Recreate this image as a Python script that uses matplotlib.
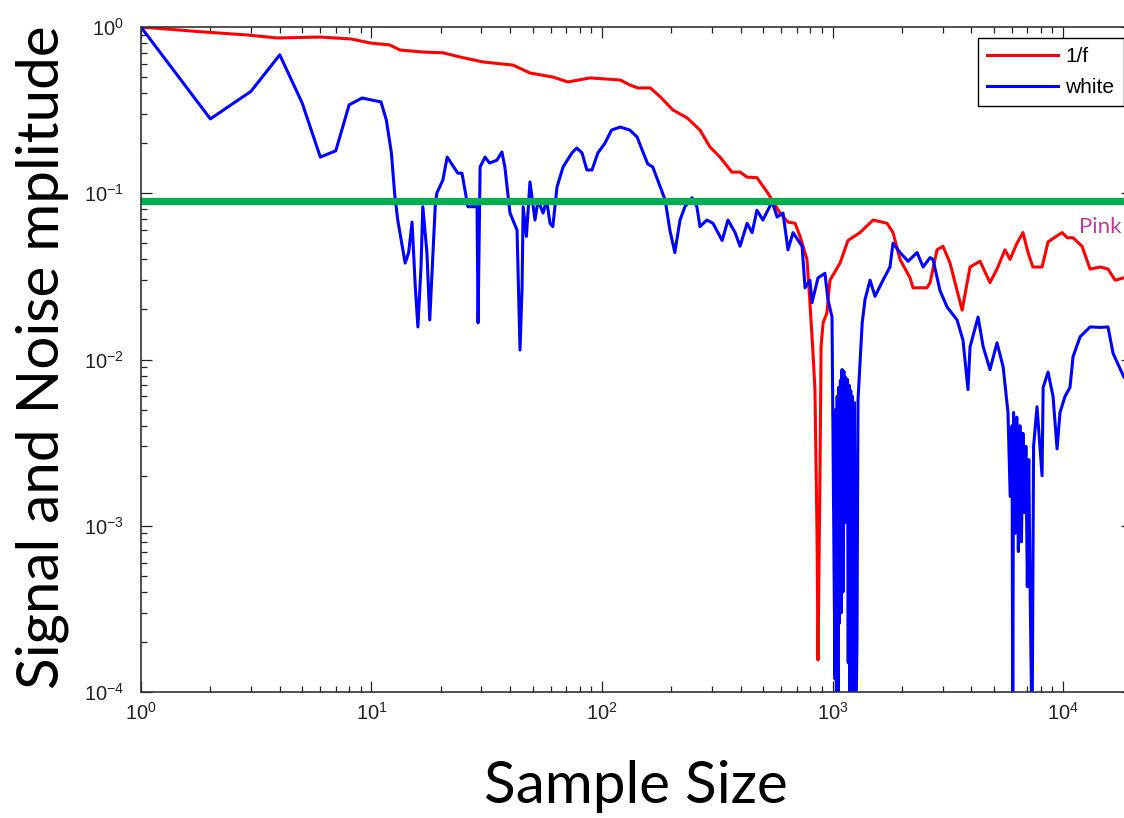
import matplotlib
matplotlib.use('Agg')
import matplotlib.pyplot as plt

plt.rcParams['font.family'] = ['Liberation Sans', 'DejaVu Sans']
plt.rcParams['mathtext.default'] = 'regular'

# ==================== data ====================
# white noise
white_x = [1, 2, 3, 4, 5, 6, 7, 8, 9.1, 11, 11.6, 12.2, 12.6, 13.0, 14.0, 14.5,
           15.0, 15.5, 15.9, 16.4, 16.7, 17.4, 17.9, 18.5, 18.9, 19.2, 20.4, 21.3,
           23.7, 24.7, 26.2, 28.7, 29.0, 29.6, 31.1, 32.5, 35.0, 36.8, 37.9, 39.9,
           42.8, 44.1, 45.0, 45.5, 47.0, 48.7, 51.2, 52.8, 55.5, 57.5, 59.5, 61.2,
           63.8, 67.8, 74.1, 77.7, 81.9, 86, 90.5, 96, 103, 110, 120, 132, 142,
           151, 158, 166, 179, 188, 197, 207, 218, 229, 246, 258, 266, 285, 303,
           332, 352, 378, 397, 426, 448, 470, 499, 547, 575, 610, 641, 674, 738,
           760, 798, 815, 865, 927, 955, 995,
           1025, 1032, 1040, 1048, 1056, 1064, 1072, 1082, 1092, 1100, 1110, 1120,
           1130, 1140, 1150, 1160, 1170, 1180, 1190, 1200, 1210, 1220, 1230, 1245,
           1260, 1277, 1290, 1316, 1345, 1384, 1455, 1529, 1656, 1775,
           1830, 1963, 2127, 2327, 2472, 2650, 2729, 2925, 3140, 3470, 3680, 3870,
           3950, 4280, 4500, 4820, 5170, 5500, 5770, 5900, 6010, 6050, 6100, 6200,
           6300, 6400, 6500, 6600, 6700, 6800, 6900, 7000, 7100, 7200, 7340, 7450,
           7710, 8110, 8200, 8610, 9050, 9420, 9700, 10200,
           10720, 11050, 11860, 13100, 14490, 15670, 16480, 18400, 20000]
white_y = [1.0, 0.28, 0.41, 0.68, 0.35, 0.165, 0.18, 0.34, 0.374, 0.354, 0.276,
           0.175, 0.1, 0.069, 0.038, 0.044, 0.067, 0.027, 0.0157, 0.036, 0.083,
           0.044, 0.0173, 0.044, 0.083, 0.1, 0.12, 0.165, 0.132, 0.132, 0.083,
           0.083, 0.0166, 0.144, 0.165, 0.152, 0.158, 0.177, 0.144, 0.076, 0.060,
           0.0114, 0.027, 0.083, 0.055, 0.117, 0.069, 0.091, 0.076, 0.091, 0.066,
           0.063, 0.109, 0.144, 0.175, 0.187, 0.175, 0.138, 0.138, 0.175, 0.2,
           0.24, 0.25, 0.24, 0.218, 0.175, 0.150, 0.144, 0.109, 0.091, 0.060,
           0.044, 0.069, 0.083, 0.094, 0.083, 0.063, 0.069, 0.066, 0.052, 0.069,
           0.058, 0.048, 0.066, 0.058, 0.079, 0.069, 0.089, 0.072, 0.076, 0.0457,
           0.058, 0.048, 0.027, 0.030, 0.022, 0.031, 0.033, 0.023, 0.018,
           1.2e-4, 0.005, 5e-5, 0.006, 6e-5, 0.0068, 2.6e-4, 0.0075, 3e-4, 0.0087,
           4e-4, 0.0085, 0.00104, 0.0078, 0.0011, 0.0076, 1.5e-4, 0.007, 5e-5,
           0.0065, 5e-5, 0.006, 5e-5, 0.0055, 5e-5, 2.06e-4,
           0.0057, 0.0095, 0.0166, 0.023, 0.030, 0.024, 0.030, 0.036, 0.050,
           0.044, 0.039, 0.044, 0.036, 0.041, 0.040, 0.026, 0.0207, 0.0173,
           0.0131, 0.0066, 0.0119, 0.018, 0.012, 0.0087, 0.0126, 0.0090, 0.0048,
           0.0015, 0.004, 5e-5, 0.0048, 9e-4, 0.0045, 7e-4, 0.004, 8e-4, 0.0036,
           0.0012, 0.0030, 4.3e-4, 0.0025, 4e-4, 5e-5, 0.003,
           0.0052, 0.0020, 0.0068, 0.0084, 0.0060, 0.0029, 0.0048, 0.0060, 0.0068,
           0.0104, 0.0137, 0.0157, 0.0156, 0.0157, 0.0109, 0.0078, 0.009]

# 1/f noise
pink_x = [1, 1.8, 2.9, 3.9, 6.0, 8.15, 9.95, 12.0, 13.3, 16.7, 20.4, 24.2, 30.5,
          41.1, 48.7, 61.2, 71.2, 88.7, 120, 132, 143, 162, 179, 203, 234, 266,
          294, 325, 366, 397, 426, 470, 520, 547, 592, 641, 688, 723, 775, 798,
          823, 839, 857, 865, 883, 892, 910, 945, 975, 1078, 1167, 1316, 1500,
          1723, 1830, 1963, 2169, 2235, 2472, 2570, 2650, 2840, 3015, 3235, 3470,
          3650, 3950, 4365, 4820, 5170, 5600, 5890, 6310, 6700, 7050, 7400, 8110,
          8610, 9900, 10430, 11050, 12090, 13100, 14490, 15670, 16830, 18400, 20000]
pink_y = [1.0, 0.937, 0.895, 0.859, 0.87, 0.847, 0.80, 0.78, 0.727, 0.707, 0.70,
          0.66, 0.616, 0.59, 0.529, 0.50, 0.467, 0.494, 0.48, 0.448, 0.43, 0.43,
          0.38, 0.317, 0.284, 0.24, 0.19, 0.165, 0.134, 0.134, 0.125, 0.124,
          0.102, 0.091, 0.076, 0.067, 0.066, 0.055, 0.040, 0.022, 0.0109, 0.0066,
          8.6e-4, 1.56e-4, 0.00226, 0.012, 0.0166, 0.019, 0.030, 0.038, 0.052,
          0.058, 0.069, 0.066, 0.058, 0.040, 0.031, 0.027, 0.027, 0.027, 0.029,
          0.0457, 0.048, 0.038, 0.026, 0.0198, 0.036, 0.039, 0.029, 0.035, 0.0457,
          0.040, 0.050, 0.058, 0.044, 0.036, 0.036, 0.051, 0.058, 0.054, 0.054,
          0.048, 0.035, 0.036, 0.035, 0.030, 0.031, 0.030]

threshold = 0.0895
x_range = (1, 2e4)
y_range = (1e-4, 1)

# ==================== figure ====================
fig = plt.figure(figsize=(11.24, 8.18), dpi=100)
ax = fig.add_axes([0.1254, 0.1540, 0.8821, 0.8130])

ax.plot(pink_x, pink_y, '-', color='#FF0000', linewidth=2.2, label='1/f')
ax.plot(white_x, white_y, '-', color='#0000FF', linewidth=2.2, label='white')
ax.axhline(threshold, color='#00B050', linewidth=5.2)

ax.set_xscale('log')
ax.set_yscale('log')
ax.set_xlim(*x_range)
ax.set_ylim(*y_range)

ax.tick_params(which='both', direction='in', top=True, right=True,
               width=0.9, colors='#222222', labelsize=14.5)
ax.tick_params(which='major', length=8)
ax.tick_params(which='minor', length=4.5)
ax.tick_params(axis='x', pad=7)
ax.tick_params(axis='y', pad=12)
for sp in ax.spines.values():
    sp.set_linewidth(1.2)
    sp.set_color('#333333')

leg = fig.legend(loc='upper left', bbox_to_anchor=(978 / 1124, 1 - 38 / 818),
                 fontsize=15, frameon=True, fancybox=False, framealpha=1,
                 edgecolor='black', handlelength=3.4, handletextpad=0.35,
                 labelspacing=0.55, borderpad=0.45, borderaxespad=0)
leg.get_frame().set_linewidth(1.0)
for line in leg.get_lines():
    line.set_linewidth(2.2)

ax.text(1.45e4, 0.063, 'Pink', color='#C0399F', fontsize=16, family='Lato',
        ha='center', va='center')

fig.text(636 / 1124, 1 - 803 / 818, 'Sample Size', fontsize=42, family='Lato',
         ha='center', va='baseline')
fig.text(42 / 1124, 1 - 357 / 818, 'Signal and Noise mplitude', fontsize=42,
         family='Lato', rotation=90, ha='center', va='center')

fig.savefig('out.png', dpi=100)
